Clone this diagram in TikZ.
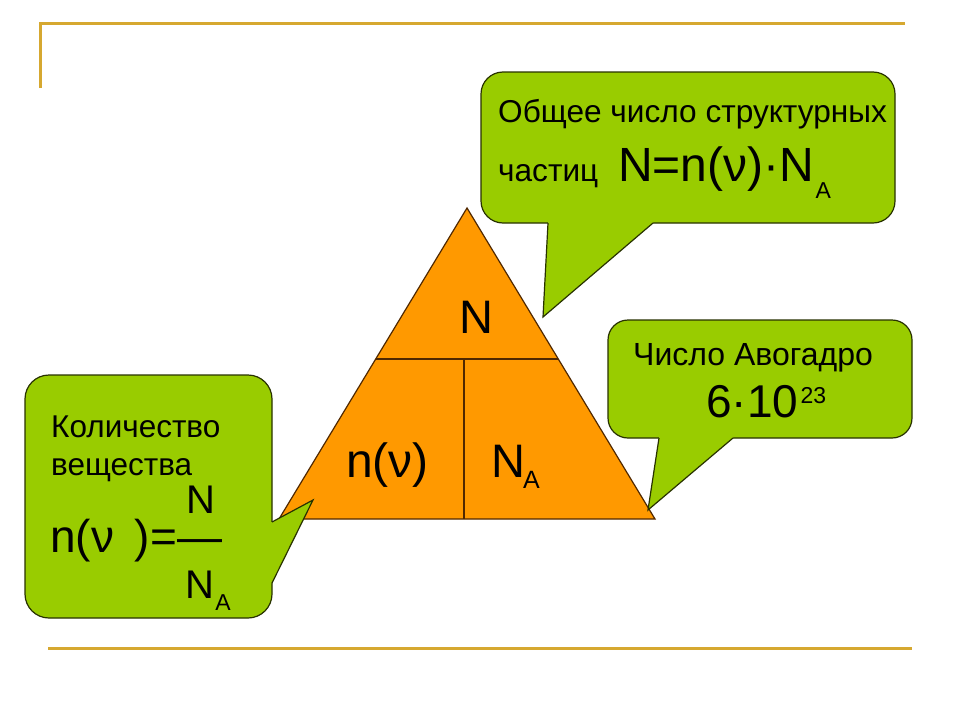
\documentclass[tikz,border=0pt]{standalone}
\usepackage{fontspec}
\setmainfont{Liberation Sans}
\definecolor{cgreen}{RGB}{153,204,0}
\definecolor{cedge}{RGB}{40,50,0}
\definecolor{corange}{RGB}{255,153,0}
\definecolor{tedge}{RGB}{80,40,0}
\definecolor{gold}{RGB}{214,168,48}
\newcommand{\fs}[1]{\fontsize{#1}{#1}\selectfont}
\begin{document}
\begin{tikzpicture}[x=1pt,y=-1pt,
  txt/.style={inner sep=0pt,anchor=base west,text=black},
  boxstyle/.style={draw=cedge,fill=cgreen,line width=1.2pt,rounded corners=22pt,inner sep=0pt},
  ptrfill/.style={fill=cgreen},
  ptredge/.style={draw=cedge,line width=1.2pt,line join=miter},
  goldline/.style={draw=gold,line width=3pt},
  tri/.style={draw=tedge,fill=corange,line width=1.2pt,line join=miter},
  triline/.style={draw=tedge,line width=1.2pt}]
\useasboundingbox (0,0) rectangle (960,720);
\fill[white] (0,0) rectangle (960,720);
% frame lines
\coordinate (tl) at (40,23);
\coordinate (tr) at (905,23);
\coordinate (lb) at (40,88);
\coordinate (bl) at (48,648);
\coordinate (br) at (912,648);
\draw[goldline] (lb) -- (tl) -- (tr);
\draw[goldline] (bl) -- (br);
% triangle
\coordinate (apex) at (467,208);
\coordinate (tbl) at (279,519);
\coordinate (tbr) at (655,519);
\coordinate (hl) at (376,359);
\coordinate (hr) at (558,359);
\coordinate (vt) at (464,359);
\coordinate (vb) at (464,519);
\draw[tri] (apex) -- (tbr) -- (tbl) -- cycle;
\draw[triline] (hl) -- (hr);
\draw[triline] (vt) -- (vb);
\node[txt] (tN) at (459,333) {\fs{47}N};
\node[txt] (tn) at (346,477) {\fs{48}n(ν)};
\node[txt] (tNA) at (491,477) {\fs{47}N};
\node[txt] (tA) at (523,488) {\fs{25}A};
% top callout
\node[boxstyle,minimum width=414pt,minimum height=151pt] (topbox) at (688,147.5) {};
\coordinate (tp1) at (548,223);
\coordinate (tp2) at (653,223);
\coordinate (tptip) at (543,317);
\fill[ptrfill] (548,219) -- (tp1) -- (tptip) -- (tp2) -- (653,219) -- cycle;
\draw[ptredge] (tp1) -- (tptip) -- (tp2);
\node[txt] (t1) at (498,122) {\fs{31.6}Общее число структурных};
\node[txt] (t2) at (498,181) {\fs{31.6}частиц};
\node[txt] (t3) at (618,181) {\fs{48}N=n(ν)·N};
\node[txt] (t3a) at ([xshift=1pt,yshift=-17pt]t3.base east) {\fs{23}A};
% right callout
\node[boxstyle,rounded corners=20pt,minimum width=304pt,minimum height=118pt] (rbox) at (760,379) {};
\coordinate (rp1) at (659,438);
\coordinate (rp2) at (733,438);
\coordinate (rptip) at (648,510);
\fill[ptrfill] (659,434) -- (rp1) -- (rptip) -- (rp2) -- (733,434) -- cycle;
\draw[ptredge] (rp1) -- (rptip) -- (rp2);
\node[txt] (r1) at (633,365) {\fs{32}Число Авогадро};
\node[txt] (r2) at (706,417) {\fs{46}6·10};
\node[txt] (r3) at ([xshift=2pt,yshift=14pt]r2.base east) {\fs{23}23};
% left callout
\node[boxstyle,rounded corners=24pt,minimum width=247pt,minimum height=243pt] (lbox) at (148.5,496.5) {};
\coordinate (lp1) at (272,522);
\coordinate (lp2) at (272,583);
\coordinate (lptip) at (313,500);
\fill[ptrfill] (268,522) -- (lp1) -- (lptip) -- (lp2) -- (268,583) -- cycle;
\draw[ptredge] (lp1) -- (lptip) -- (lp2);
\node[txt] (l1) at (51,437) {\fs{31.5}Количество};
\node[txt] (l2) at (51,475) {\fs{31.5}вещества};
\node[txt] (l3) at (50,552) {\fs{46}n(ν\hspace{0.45em})=};
\node[txt] (l4) at (186,513) {\fs{40}N};
\node[txt,text height=16pt,text depth=0pt] (l5) at (177,552) {\fs{45}—};
\node[txt] (l6) at (185,598) {\fs{40}N};
\node[txt] (l7) at ([xshift=1pt,yshift=-12pt]l6.base east) {\fs{23}A};
\end{tikzpicture}
\end{document}
